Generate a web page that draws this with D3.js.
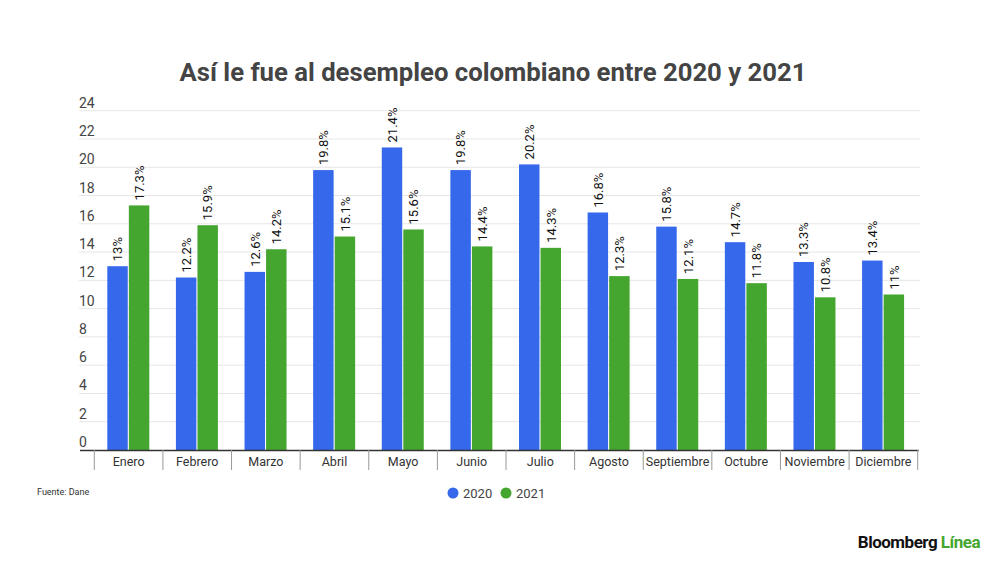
<!DOCTYPE html>
<html>
<head>
<meta charset="utf-8">
<script src="https://cdn.jsdelivr.net/npm/d3@7"></script>
<style>
  body { margin: 0; background: #fff; }
  svg { font-family: Roboto, "Noto Sans", sans-serif; }
</style>
</head>
<body>
<svg id="chart" width="1000" height="562"></svg>
<script>
// monthly unemployment rate, Colombia (Dane)
var months = ['Enero', 'Febrero', 'Marzo', 'Abril', 'Mayo', 'Junio', 'Julio',
              'Agosto', 'Septiembre', 'Octubre', 'Noviembre', 'Diciembre'];
var years = ['2020', '2021'];
var values2020 = [13, 12.2, 12.6, 19.8, 21.4, 19.8, 20.2, 16.8, 15.8, 14.7, 13.3, 13.4];
var values2021 = [17.3, 15.9, 14.2, 15.1, 15.6, 14.4, 14.3, 12.3, 12.1, 11.8, 10.8, 11];
var yTicks = [0, 2, 4, 6, 8, 10, 12, 14, 16, 18, 20, 22, 24];

var colors = { '2020': '#3568ea', '2021': '#45a62f' };

var svg = d3.select('#chart');
var plotLeft = 94.3, plotRight = 917.7, plotTop = 110.7, plotBottom = 450;

var x = d3.scaleBand().domain(months).range([plotLeft, plotRight]).paddingInner(0).paddingOuter(0);
var x1 = d3.scaleBand().domain(years).range([13, 55]).paddingInner(0.05);
var y = d3.scaleLinear().domain([0, 24]).range([plotBottom, plotTop]);

// title
svg.append('text')
    .attr('x', 493).attr('y', 81)
    .attr('text-anchor', 'middle')
    .style('font-size', '25.7px').style('font-weight', 'bold')
    .style('fill', '#444')
    .text('Así le fue al desempleo colombiano entre 2020 y 2021');

// gridlines + y labels
var grid = svg.append('g');
grid.selectAll('line')
    .data(yTicks.filter(function (d) { return d > 0; }))
    .enter().append('line')
    .attr('x1', 79).attr('x2', 920)
    .attr('y1', function (d) { return y(d); })
    .attr('y2', function (d) { return y(d); })
    .style('stroke', '#e6e6e6').style('stroke-width', 1);
grid.selectAll('text')
    .data(yTicks)
    .enter().append('text')
    .attr('x', 79)
    .attr('y', function (d) { return y(d) - 3; })
    .style('font-size', '14px').style('fill', '#444')
    .text(function (d) { return d; });

// bars
var rows = months.map(function (m, i) {
    return { month: m, vals: [{ year: '2020', v: values2020[i] }, { year: '2021', v: values2021[i] }] };
});

var groups = svg.append('g').selectAll('g')
    .data(rows)
    .enter().append('g')
    .attr('transform', function (d) { return 'translate(' + x(d.month) + ',0)'; });

groups.selectAll('rect')
    .data(function (d) { return d.vals; })
    .enter().append('rect')
    .attr('x', function (d) { return x1(d.year); })
    .attr('width', x1.bandwidth())
    .attr('y', function (d) { return y(d.v); })
    .attr('height', function (d) { return plotBottom - y(d.v); })
    .style('fill', function (d) { return colors[d.year]; });

groups.selectAll('text')
    .data(function (d) { return d.vals; })
    .enter().append('text')
    .attr('transform', function (d) {
        return 'translate(' + (x1(d.year) + x1.bandwidth() / 2 + 4.8) + ',' + (y(d.v) - 5) + ') rotate(-90)';
    })
    .style('font-size', '13px').style('fill', '#111')
    .text(function (d) { return d.v + '%'; });

// x axis
var xAxis = svg.append('g');
xAxis.append('line')
    .attr('x1', 80).attr('x2', plotRight + 1)
    .attr('y1', plotBottom + 0.5).attr('y2', plotBottom + 0.5)
    .style('stroke', '#333').style('stroke-width', 1.3);
xAxis.selectAll('line.sep')
    .data(months.concat(['end']))
    .enter().append('line')
    .attr('class', 'sep')
    .attr('x1', function (d, i) { return i < months.length ? x(d) : plotRight; })
    .attr('x2', function (d, i) { return i < months.length ? x(d) : plotRight; })
    .attr('y1', plotBottom).attr('y2', 470)
    .style('stroke', '#999').style('stroke-width', 1);
xAxis.selectAll('text')
    .data(months)
    .enter().append('text')
    .attr('x', function (d) { return x(d) + x.bandwidth() / 2; })
    .attr('y', 466)
    .attr('text-anchor', 'middle')
    .style('font-size', '12.5px').style('fill', '#333')
    .text(function (d) { return d; });

// source
svg.append('text')
    .attr('x', 37).attr('y', 495)
    .style('font-size', '9px').style('fill', '#333')
    .text('Fuente: Dane');

// legend
var legend = svg.append('g').selectAll('g')
    .data(years)
    .enter().append('g')
    .attr('transform', function (d, i) { return 'translate(' + (453 + i * 53) + ',493)'; });
legend.append('circle').attr('r', 5.5)
    .style('fill', function (d) { return colors[d]; });
legend.append('text')
    .attr('x', 10).attr('y', 4.5)
    .style('font-size', '13px').style('fill', '#444')
    .text(function (d) { return d; });

// logo
var logo = svg.append('text')
    .attr('x', 980).attr('y', 548)
    .attr('text-anchor', 'end')
    .style('font-size', '17px').style('font-weight', 'bold')
    .style('letter-spacing', '-0.5px');
logo.append('tspan').style('fill', '#111').text('Bloomberg ');
logo.append('tspan').style('fill', '#45a62f').text('Línea');
</script>
</body>
</html>
